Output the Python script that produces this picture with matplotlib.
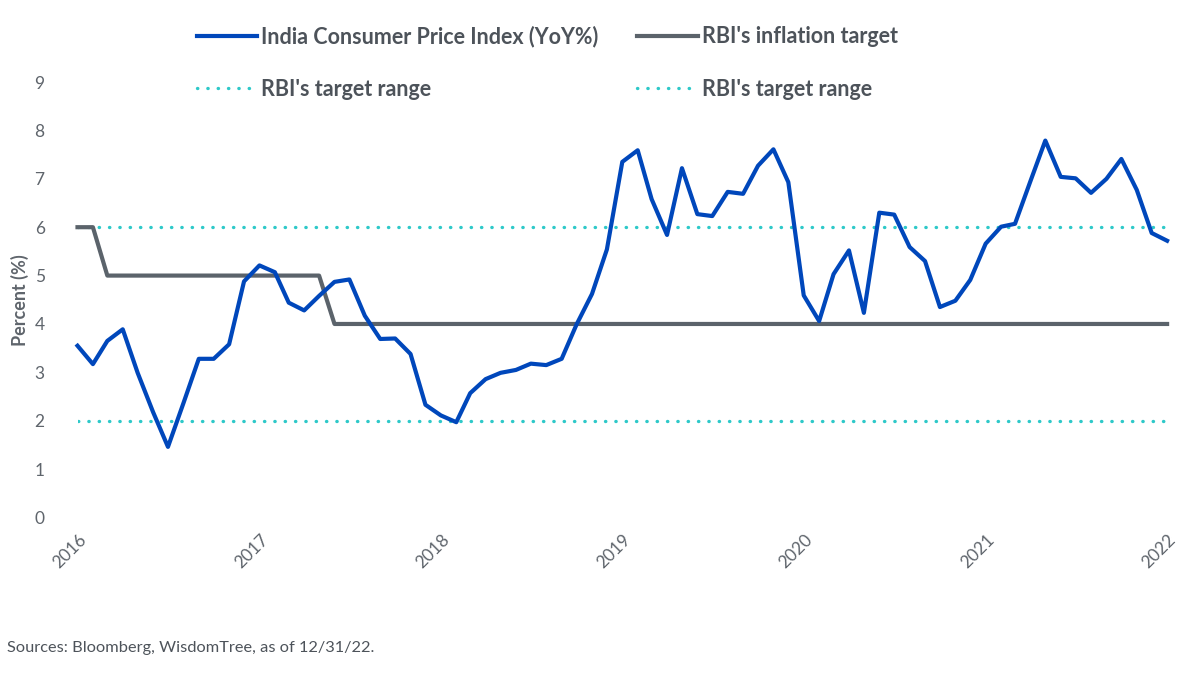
import numpy as np
import pandas as pd
import matplotlib
matplotlib.use("Agg")
import matplotlib.pyplot as plt
import matplotlib.dates as mdates

plt.rcParams['font.family'] = ['Lato', 'DejaVu Sans']

# monthly observations, month-end dates
dates = pd.date_range('2015-12-31', '2021-12-31', freq='ME')

cpi = [3.55,
       3.17, 3.65, 3.89, 2.99, 2.18, 1.46, 2.36, 3.28, 3.28, 3.58, 4.88, 5.21,
       5.07, 4.44, 4.28, 4.58, 4.87, 4.92, 4.17, 3.69, 3.70, 3.38, 2.33, 2.11,
       1.97, 2.57, 2.86, 2.99, 3.05, 3.18, 3.15, 3.28, 3.99, 4.62, 5.54, 7.35,
       7.59, 6.58, 5.84, 7.22, 6.27, 6.23, 6.73, 6.69, 7.27, 7.61, 6.93, 4.59,
       4.06, 5.03, 5.52, 4.23, 6.30, 6.26, 5.59, 5.30, 4.35, 4.48, 4.91, 5.66,
       6.01, 6.07, 6.95, 7.79, 7.04, 7.01, 6.71, 7.00, 7.41, 6.77, 5.88, 5.72]

target = [6, 6] + [5] * 15 + [4] * 56
range_hi = [6] * 73
range_lo = [2] * 73

year_ticks = [f'{y}' for y in range(2016, 2023)]

blue = '#0047BB'
grey = '#5B636B'
teal = '#2EC9C9'
txt = '#5f656c'

fig = plt.figure(figsize=(12, 6.78), dpi=100)
ax = fig.add_axes([0.065, 0.2367, 0.908, 0.6423])

dot = dict(color=teal, lw=2.4, linestyle=(0, (0.1, 3.0)), dash_capstyle='round')
l_hi, = ax.plot(dates, range_hi, label="RBI's target range", **dot)
l_lo, = ax.plot(dates, range_lo, label="RBI's target range", **dot)
l_tg, = ax.plot(dates, target, color=grey, lw=3.0, label="RBI's inflation target", clip_on=False)
l_cpi, = ax.plot(dates, cpi, color=blue, lw=3.0, label='India Consumer Price Index (YoY%)',
                 clip_on=False)

ax.set_ylim(0, 9)
ax.set_yticks(range(0, 10))
ax.set_xlim(pd.Timestamp('2016-01-01'), pd.Timestamp('2022-01-01'))
ax.set_xticks([pd.Timestamp(f'{y}-01-01') for y in year_ticks])
ax.set_xticklabels(year_ticks, rotation=45, ha='right', rotation_mode='anchor')

for s in ax.spines.values():
    s.set_visible(False)
ax.tick_params(axis='both', length=0, labelsize=12.5, labelcolor=txt)
ax.tick_params(axis='y', pad=24)
ax.tick_params(axis='x', pad=10)
ax.set_ylabel('Percent (%)', fontsize=13, fontweight='bold', color=txt, labelpad=4)

leg = fig.legend([l_cpi, l_hi, l_tg, l_lo],
                 [l.get_label() for l in [l_cpi, l_hi, l_tg, l_lo]],
                 ncol=2, loc='upper left', bbox_to_anchor=(0.164, 0.962),
                 frameon=False, handlelength=2.8, handletextpad=0.2,
                 columnspacing=1.8, labelspacing=1.45, borderpad=0, borderaxespad=0,
                 prop={'size': 15.5, 'weight': 'bold'})
for t in leg.get_texts():
    t.set_color('#4d535a')

fig.text(0.006, 0.038, 'Sources: Bloomberg, WisdomTree, as of 12/31/22.',
         fontsize=11.8, color='#4d535a')

fig.savefig('out.png', dpi=100)
